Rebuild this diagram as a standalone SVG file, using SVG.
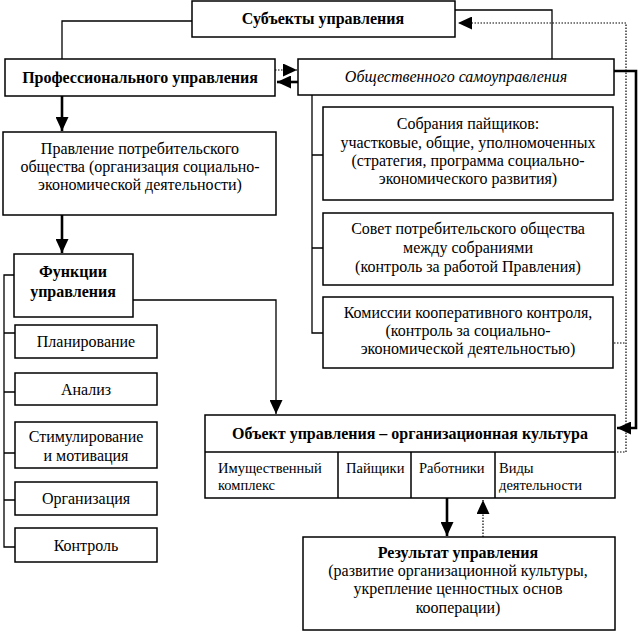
<svg xmlns="http://www.w3.org/2000/svg" width="639" height="633" viewBox="0 0 639 633">
<style>
.box{fill:#fff;stroke:#000;stroke-width:1.5}
.t{font-family:"Liberation Serif","Times New Roman",serif;font-size:16px;fill:#000;text-anchor:middle}
.s{font-size:14.5px;text-anchor:start}
.b{font-weight:bold}
.i{font-style:italic}
.ln{fill:none;stroke:#000;stroke-width:1.3}
.th{stroke-width:2.6}
.dot{stroke-dasharray:1.5 1.5;stroke-width:1.2}
</style>
<defs>
<marker id="ah" markerUnits="userSpaceOnUse" markerWidth="15" markerHeight="13" refX="14" refY="6.5" orient="auto">
<path d="M0,0 L14,6.5 L0,13 z" fill="#000"/>
</marker>
</defs>
<rect width="639" height="633" fill="#fff"/>
<g id="connectors">
<path class="ln" d="M192,21 H62 V59"/>
<path class="ln" d="M455,10 H552 V59"/>
<path class="ln dot" d="M614,452 H626 V23 H458" marker-end="url(#ah)"/>
<path class="ln dot" d="M614,343 H626"/>
<path class="ln th" d="M614,71 H636 V428 H617" marker-end="url(#ah)"/>
<path class="ln dot" d="M275,70 H297" marker-end="url(#ah)"/>
<path class="ln th" d="M298,82 H277" marker-end="url(#ah)"/>
<path class="ln th" d="M62,96 V131" marker-end="url(#ah)"/>
<path class="ln th" d="M62,215 V253" marker-end="url(#ah)"/>
<path class="ln" d="M14,275 H4 V547 H15 M4,333 H15 M4,392 H15 M4,453 H15 M4,500 H15"/>
<path class="ln" d="M133,300 H276 V414" marker-end="url(#ah)"/>
<path class="ln" d="M312,95 V333 H323 M312,155 H323 M312,248 H323"/>
<path class="ln th" d="M447,498 V536" marker-end="url(#ah)"/>
<path class="ln dot" d="M483,537 V500" marker-end="url(#ah)"/>
</g>
<g id="subjects"><rect class="box" x="192" y="1" width="263" height="36"/><text class="t b" x="323" y="24">Субъекты управления</text></g>
<g id="prof"><rect class="box" x="5" y="59" width="270" height="37"/><text class="t b" x="140" y="83">Профессионального управления</text></g>
<g id="obsh"><rect class="box" x="298" y="59" width="316" height="36"/><text class="t i" x="456" y="82">Общественного самоуправления</text></g>
<g id="pravlenie"><rect class="box" x="3" y="132" width="273" height="83"/>
<text class="t" x="140" y="154">Правление потребительского</text>
<text class="t" x="140" y="172">общества (организация социально-</text>
<text class="t" x="140" y="190">экономической деятельности)</text></g>
<g id="funkcii"><rect class="box" x="14" y="254" width="119" height="63"/>
<text class="t b" x="73" y="277">Функции</text><text class="t b" x="73" y="297">управления</text></g>
<g id="plan"><rect class="box" x="15" y="325" width="142" height="33"/><text class="t" x="86" y="347">Планирование</text></g>
<g id="analiz"><rect class="box" x="15" y="373" width="142" height="32"/><text class="t" x="86" y="395">Анализ</text></g>
<g id="stim"><rect class="box" x="15" y="422" width="142" height="46"/><text class="t" x="86" y="442">Стимулирование</text><text class="t" x="86" y="461">и мотивация</text></g>
<g id="org"><rect class="box" x="15" y="482" width="142" height="33"/><text class="t" x="86" y="504">Организация</text></g>
<g id="kontrol"><rect class="box" x="15" y="528" width="142" height="34"/><text class="t" x="86" y="551">Контроль</text></g>
<g id="sobr"><rect class="box" x="323" y="107" width="290" height="93"/>
<text class="t" x="468" y="129">Собрания пайщиков:</text>
<text class="t" x="468" y="148">участковые, общие, уполномоченных</text>
<text class="t" x="468" y="166">(стратегия, программа социально-</text>
<text class="t" x="468" y="184">экономического развития)</text></g>
<g id="sovet"><rect class="box" x="323" y="213" width="290" height="72"/>
<text class="t" x="468" y="234">Совет потребительского общества</text>
<text class="t" x="468" y="253">между собраниями</text>
<text class="t" x="468" y="272">(контроль за работой Правления)</text></g>
<g id="komissii"><rect class="box" x="323" y="297" width="290" height="71"/>
<text class="t" x="468" y="318">Комиссии кооперативного контроля,</text>
<text class="t" x="468" y="336">(контроль за социально-</text>
<text class="t" x="468" y="354">экономической деятельностью)</text></g>
<g id="object"><rect class="box" x="205" y="415" width="410" height="83"/>
<path class="ln" d="M205,452 H615 M338,452 V498 M411,452 V498 M495,452 V498" style="stroke-width:1.5"/>
<text class="t b" x="410" y="439">Объект управления – организационная культура</text>
<text class="t s" x="218" y="473">Имущественный</text><text class="t s" x="218" y="490">комплекс</text>
<text class="t s" x="346" y="473">Пайщики</text>
<text class="t s" x="419" y="473">Работники</text>
<text class="t s" x="499" y="473">Виды</text><text class="t s" x="499" y="490">деятельности</text></g>
<g id="result"><rect class="box" x="303" y="537" width="312" height="93"/>
<text class="t b" x="458" y="558">Результат управления</text>
<text class="t" x="458" y="576">(развитие организационной культуры,</text>
<text class="t" x="458" y="594">укрепление ценностных основ</text>
<text class="t" x="458" y="613">кооперации)</text></g>
</svg>
